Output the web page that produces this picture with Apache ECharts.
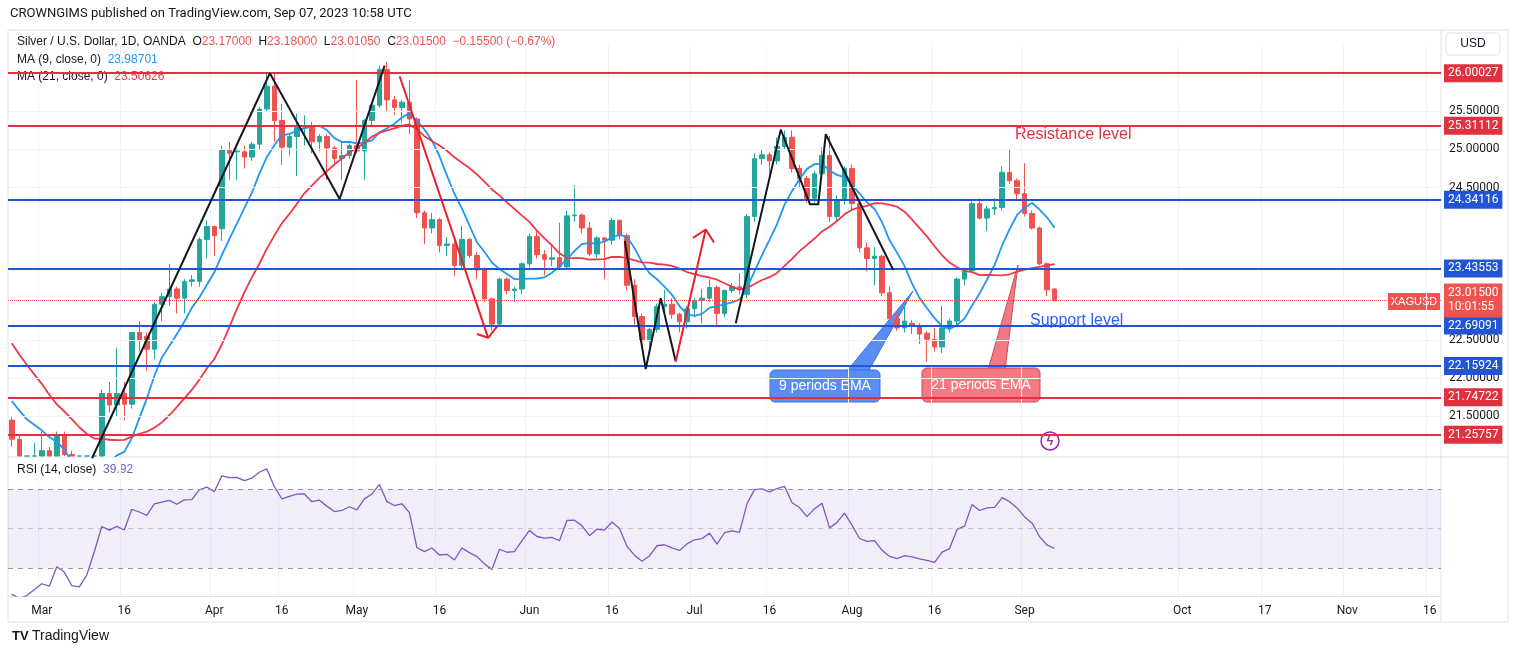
<!DOCTYPE html>
<html><head><meta charset="utf-8">
<script src="https://cdn.jsdelivr.net/npm/echarts@6/dist/echarts.min.js"></script>
<style>html,body{margin:0;padding:0;background:#fff}#c{width:1515px;height:655px}</style>
</head><body><div id="c"></div>
<script>
// ---- data ----
const priorCloses = [23.9,23.7,23.6,23.65,23.9,23.9,22.9,22.3,22.3,22.1,22.2,21.9,21.9,21.9,21.6,21.7,21.7,21.8,21.9,21.6];
const opens = [21.45,21.2,20.8,20.85,20.95,21.05,20.95,21.25,21.0,20.15,20.05,20.3,20.95,21.8,21.65,21.8,21.66,22.6,22.55,22.38,22.97,23.07,23.17,23.05,23.27,23.27,23.82,23.99,23.96,25.0,24.97,24.97,24.9,25.07,25.53,25.83,25.38,25.03,25.17,25.29,25.29,25.1,25.17,25.02,24.88,24.92,25.05,24.98,25.38,25.58,26.05,25.65,25.55,25.62,25.4,24.17,23.97,24.08,23.74,23.76,23.48,23.82,23.61,23.42,23.04,22.71,23.3,23.15,23.17,23.5,23.86,23.62,23.56,23.58,23.46,24.13,24.14,23.97,23.63,23.84,23.81,24.07,23.87,23.22,22.81,22.49,22.64,22.94,22.97,22.84,22.74,22.91,23.02,23.05,23.19,22.85,23.15,23.2,23.1,24.12,24.88,24.93,24.85,25.04,25.16,24.75,24.62,24.36,24.68,24.92,24.12,24.34,24.75,24.29,23.71,23.57,23.6,23.12,22.78,22.66,22.72,22.68,22.59,22.51,22.41,22.66,22.75,23.3,23.41,24.29,24.1,24.22,24.24,24.7,24.59,24.42,24.16,23.97,23.5,23.17];
const closes = [21.2,20.8,20.85,20.95,21.05,20.9,21.25,21.0,20.15,20.05,20.3,20.9,21.8,21.65,21.8,21.66,22.6,22.5,22.38,22.97,23.07,23.17,23.05,23.27,23.29,23.82,23.99,23.87,25.0,24.95,24.98,24.9,25.07,25.53,25.83,25.38,25.03,25.17,25.29,25.3,25.1,25.17,25.02,24.88,24.92,25.05,24.98,25.38,25.58,26.05,25.65,25.55,25.62,25.4,24.17,23.97,24.08,23.74,23.76,23.48,23.82,23.61,23.42,23.04,22.71,23.3,23.15,23.17,23.5,23.86,23.62,23.56,23.58,23.46,24.13,24.14,23.97,23.63,23.84,23.81,24.07,23.87,23.22,22.81,22.49,22.64,22.94,22.97,22.84,22.74,22.91,23.02,23.05,23.19,22.85,23.15,23.2,23.16,24.12,24.88,24.93,24.85,25.04,25.16,24.75,24.62,24.36,24.68,24.92,24.12,24.34,24.75,24.29,23.71,23.57,23.6,23.12,22.78,22.66,22.75,22.68,22.58,22.51,22.41,22.66,22.75,23.3,23.41,24.29,24.1,24.22,24.24,24.7,24.59,24.42,24.16,23.97,23.5,23.16,23.015];
const highs = [21.5,21.25,20.95,21.15,21.3,21.1,21.3,21.3,21.05,20.2,20.4,20.95,21.85,21.95,22.4,21.95,22.6,22.75,22.6,23.0,23.12,23.5,23.2,23.3,23.35,23.85,24.07,24.0,25.05,25.1,25.02,25.05,25.1,25.56,26.0,26.0,25.6,25.2,25.47,25.45,25.36,25.2,25.2,25.05,25.1,25.08,25.91,25.4,25.6,26.1,26.15,25.7,25.65,25.91,25.42,24.2,24.17,24.1,23.85,23.8,24.0,23.84,23.65,23.45,23.06,23.32,23.32,23.2,23.52,23.9,23.95,23.68,23.75,24.04,24.2,24.53,24.16,24.05,23.86,23.85,24.1,24.08,23.9,23.3,22.85,22.66,22.98,23.16,23.05,22.86,22.95,23.05,23.17,23.3,23.22,23.16,23.25,23.38,24.15,24.95,25.0,24.96,25.16,25.25,25.25,24.8,24.65,24.72,25.03,25.18,24.4,24.78,24.8,24.32,23.78,23.72,23.62,23.2,22.85,22.98,22.76,22.72,22.62,22.66,22.95,22.78,23.32,23.45,24.32,24.36,24.26,24.36,24.78,25.01,24.62,24.82,24.2,23.99,23.52,23.18];
const lows = [21.1,20.75,20.7,20.75,20.9,20.7,20.9,20.9,20.1,19.9,19.95,20.2,20.8,21.55,21.5,21.45,21.6,22.35,22.1,22.25,22.75,22.95,22.85,22.85,23.2,23.2,23.57,23.6,23.8,24.6,24.6,24.75,24.85,25.0,25.5,25.1,24.8,24.92,24.65,25.05,24.95,24.98,24.6,24.82,24.6,24.88,24.95,24.6,25.3,25.55,25.5,25.45,25.35,25.2,24.1,23.76,23.9,23.65,23.6,23.34,23.42,23.58,23.3,23.0,22.63,22.68,23.1,23.0,23.1,23.45,23.57,23.35,23.47,23.44,23.42,24.05,23.9,23.6,23.58,23.3,23.75,23.82,23.15,22.7,22.43,22.38,22.6,22.84,22.78,22.6,22.65,22.8,22.72,23.0,22.67,22.8,23.12,23.1,23.05,24.05,24.8,24.6,24.8,25.0,24.7,24.5,24.3,24.3,24.6,24.05,24.05,24.28,24.2,23.65,23.4,23.22,23.08,22.72,22.62,22.6,22.58,22.45,22.22,22.35,22.33,22.6,22.7,23.22,23.38,24.08,23.93,24.14,24.2,24.55,24.35,24.12,23.95,23.48,23.08,23.0105];
const hLinesRed = [26.00027, 25.31112, 21.74722, 21.25757];
const hLinesBlue = [24.34116, 23.43553, 22.69091, 22.15924];
const priceTicks = [21.5, 22.0, 22.5, 24.5, 25.0, 25.5];
const rsiTicks = [80, 60, 20];
const monthTicks = {'2023-03-01':'Mar','2023-03-16':'16','2023-04-03':'Apr','2023-04-17':'16','2023-05-01':'May','2023-05-16':'16','2023-06-01':'Jun','2023-06-16':'16','2023-07-03':'Jul','2023-07-17':'16','2023-08-01':'Aug','2023-08-16':'16','2023-09-01':'Sep','2023-10-02':'Oct','2023-10-17':'17','2023-11-01':'Nov','2023-11-16':'16'};
const zigzag1 = [[10.7,20.95],[34.4,26.0],[43.7,24.35],[49.7,26.1]];
const redDown = [[51.7,25.96],[63.5,22.53]];
const redDownHead = [[62.0,22.58],[63.5,22.53],[64.7,22.68]];
const zigzagW = [[81.7,23.8],[84.5,22.12],[86.5,23.05],[88.5,22.22]];
const redUp = [[88.5,22.22],[92.5,23.95]];
const redUpHead = [[90.8,23.84],[92.5,23.95],[93.6,23.78]];
const zigzagJul = [[96.5,22.72],[102.5,25.26],[106.4,24.28],[107.5,24.28],[108.5,25.2],[117.5,23.42]];

const N = 191, YMIN = 20.98, YMAX = 26.37;
const dates = [];
{ let d = new Date(Date.UTC(2023,1,23));
  while (dates.length < N) {
    const wd = d.getUTCDay(); const s = d.toISOString().slice(0,10);
    if (wd !== 0 && wd !== 6 && s !== '2023-04-07') dates.push(s);
    d = new Date(d.getTime() + 86400000);
  } }
const clampY = v => Math.min(YMAX, Math.max(YMIN, v)); // visual clipping to the pane
const candles = opens.map((o,i)=>[clampY(o), clampY(closes[i]), clampY(lows[i]), clampY(highs[i])]);
const all = priorCloses.concat(closes), P = priorCloses.length;
function ma(n){ return closes.map((c,i)=>{ let s=0; for(let k=0;k<n;k++) s+=all[P+i-k]; return +(s/n).toFixed(4);}); }
const ma9 = ma(9), ma21 = ma(21);
const rsi = (function(){ let ag=0, al=0; const out=[];
  for(let j=1;j<all.length;j++){ const ch=all[j]-all[j-1]; const g=Math.max(ch,0), l=Math.max(-ch,0);
    if(j<=14){ ag+=g/14; al+=l/14; } else { ag=(ag*13+g)/14; al=(al*13+l)/14; }
    if(j>=P) out.push(+(100-100/(1+ag/(al||1e-9))).toFixed(2)); }
  return out; })();

const RED='#e0313f', BLUE='#2255d6', GREEN='#26a69a', CRED='#ef5350', MA9C='#2196f3', MA21C='#f23645';
const chart = echarts.init(document.getElementById('c'));
const boxLabel = (bg, fmt) => ({show:true, position:'end', distance:3, formatter: fmt, backgroundColor:bg, color:'#fff', padding:[3,4], fontSize:12, fontFamily:'Roboto'});
function hl(v,color,width,type){ return {yAxis:v, lineStyle:{color, width, type}, label: boxLabel(color, v.toFixed(5))}; }
const HIDDEN = {color:'rgba(0,0,0,0)', width:0, opacity:0};
const trendSeries = (data,color) => ({type:'line', xAxisIndex:2, yAxisIndex:0, data, symbol:'none', lineStyle:{color, width:2}, silent:true, z:6, clip:false});
const NOSYM = ['none','none'];

chart.setOption({
  animation:false,
  textStyle:{fontFamily:'Roboto'},
  grid:[{left:8,right:74,top:45,height:411},{left:8,right:74,top:458,height:138}],
  xAxis:[
    {type:'category', data:dates, gridIndex:0, axisLabel:{show:false}, axisTick:{show:false}, axisLine:{show:false},
     splitLine:{show:true, interval:(i,v)=>!!monthTicks[v], lineStyle:{color:'#f0f3fa'}}},
    {type:'category', data:dates, gridIndex:1, axisTick:{show:false}, axisLine:{lineStyle:{color:'#e0e3eb'}},
     axisLabel:{interval:(i,v)=>!!monthTicks[v], formatter:v=>monthTicks[v]||'', color:'#131722', fontSize:12, margin:9},
     splitLine:{show:true, interval:(i,v)=>!!monthTicks[v], lineStyle:{color:'#f0f3fa'}}},
    {type:'value', gridIndex:0, min:-0.5, max:N-0.5, show:false}
  ],
  yAxis:[
    {type:'value', gridIndex:0, min:YMIN, max:YMAX, position:'right', axisLabel:{show:false}, axisTick:{show:false}, splitLine:{show:false}, axisLine:{show:false}},
    {type:'value', gridIndex:1, min:16, max:85.5, position:'right', axisLabel:{show:false}, axisTick:{show:false}, splitLine:{show:false}, axisLine:{show:false}}
  ],
  series:[
    {type:'line', data:[], xAxisIndex:0, yAxisIndex:0, silent:true, z:1,
     markLine:{symbol:NOSYM, silent:true, data: priceTicks.map(v=>({yAxis:v, lineStyle:{color:'#f0f3fa', width:1, type:'solid'},
       label:{show:true, position:'end', distance:8, formatter:v.toFixed(5), color:'#131722', fontSize:12}}))}},
    {type:'candlestick', data:candles, xAxisIndex:0, yAxisIndex:0, barWidth:5, z:3,
     itemStyle:{color:GREEN, color0:CRED, borderColor:GREEN, borderColor0:CRED},
     markLine:{symbol:NOSYM, silent:true, z:5, data:[
       ...hLinesRed.map(v=>hl(v,RED,2,'solid')), ...hLinesBlue.map(v=>hl(v,BLUE,2,'solid')),
       {yAxis:23.015, lineStyle:{color:CRED,width:1,type:'dotted'}, label: Object.assign(boxLabel(CRED,'23.01500\n10:01:55'),{lineHeight:14})}
     ]}},
    {type:'line', data:ma9, xAxisIndex:0, yAxisIndex:0, symbol:'none', lineStyle:{color:MA9C,width:1.8}, z:4, silent:true,
     markLine:{symbol:NOSYM, silent:true, data:[{yAxis:23.98701, lineStyle:HIDDEN, label:boxLabel(MA9C,'23.98701')}]}},
    {type:'line', data:ma21, xAxisIndex:0, yAxisIndex:0, symbol:'none', lineStyle:{color:MA21C,width:1.8}, z:4, silent:true,
     markLine:{symbol:NOSYM, silent:true, data:[{yAxis:23.50626, lineStyle:HIDDEN, label:boxLabel(MA21C,'23.50626')}]}},
    trendSeries(zigzag1,'#131722'), trendSeries(redDown,'#e8202e'), trendSeries(redDownHead,'#e8202e'),
    trendSeries(zigzagW,'#131722'), trendSeries(redUp,'#e8202e'), trendSeries(redUpHead,'#e8202e'), trendSeries(zigzagJul,'#131722'),
    {type:'line', data:rsi, xAxisIndex:1, yAxisIndex:1, symbol:'none', lineStyle:{color:'#7e57c2',width:1.3}, silent:true, z:4,
     markArea:{silent:true, itemStyle:{color:'rgba(126,87,194,0.10)'}, data:[[{yAxis:30},{yAxis:70}]]},
     markLine:{symbol:NOSYM, silent:true, data:[
       ...[70,50,30].map(v=>({yAxis:v, lineStyle:{color:'#9598a1', width:1, type:[5,5], opacity:v===50?0.5:1}, label:{show:false}})),
       ...rsiTicks.map(v=>({yAxis:v, lineStyle:HIDDEN, label:{show:true, position:'end', distance:8, formatter:v.toFixed(2), color:'#131722', fontSize:12}})),
       {yAxis:rsi[rsi.length-1], lineStyle:HIDDEN, label:boxLabel('#7e57c2', rsi[rsi.length-1].toFixed(2))}
     ]}}
  ],
  graphic:[
    {type:'rect', shape:{x:8,y:30,width:1500,height:592}, style:{fill:'none', stroke:'#e0e3eb'}, silent:true},
    {type:'line', shape:{x1:8,y1:457,x2:1508,y2:457}, style:{stroke:'#e0e3eb'}},
    {type:'line', shape:{x1:1441,y1:30,x2:1441,y2:622}, style:{stroke:'#e0e3eb'}},
    {type:'text', left:10, top:7, style:{text:'CROWNGIMS published on TradingView.com, Sep 07, 2023 10:58 UTC', fontSize:13, fill:'#131722', fontFamily:'Roboto'}},
    {type:'text', left:17, top:36, style:{rich:{d:{fill:'#131722',fontSize:12},r:{fill:CRED,fontSize:12}},
      text:'{d|Silver / U.S. Dollar, 1D, OANDA  O}{r|23.17000}{d|  H}{r|23.18000}{d|  L}{r|23.01050}{d|  C}{r|23.01500}{r|  −0.15500 (−0.67%)}'}},
    {type:'text', left:17, top:54, style:{rich:{d:{fill:'#131722',fontSize:12},b:{fill:MA9C,fontSize:12}}, text:'{d|MA (9, close, 0)}  {b|23.98701}'}},
    {type:'text', left:17, top:71, style:{rich:{d:{fill:'#131722',fontSize:12},b:{fill:MA21C,fontSize:12}}, text:'{d|MA (21, close, 0)}  {b|23.50626}'}},
    {type:'text', left:17, top:464, style:{rich:{d:{fill:'#131722',fontSize:12},b:{fill:'#7e57c2',fontSize:12}}, text:'{d|RSI (14, close)}  {b|'+rsi[rsi.length-1].toFixed(2)+'}'}},
    {type:'rect', shape:{x:1446,y:33,width:54,height:22,r:4}, style:{fill:'#fff', stroke:'#e0e3eb'}},
    {type:'text', x:1473, y:44, style:{text:'USD', fontSize:12, fill:'#131722', align:'center', verticalAlign:'middle'}},
    {type:'rect', shape:{x:1388,y:293,width:52,height:17}, style:{fill:CRED}},
    {type:'text', x:1414, y:302, style:{text:'XAGUSD', fontSize:11, fill:'#fff', align:'center', verticalAlign:'middle'}},
    {type:'text', left:1015, top:127, style:{text:'Resistance level', fontSize:16, fill:'#e0313f'}},
    {type:'text', left:1030, top:313, style:{text:'Support level', fontSize:16, fill:'#2962ff'}},
    {type:'polygon', shape:{points:[[846,372],[913,291],[868,372]]}, style:{fill:'#5a8cf5', stroke:'#3d6fe0'}},
    {type:'rect', shape:{x:770,y:370,width:110,height:32,r:5}, style:{fill:'#5a8cf5', stroke:'#3d6fe0'}},
    {type:'text', x:825, y:386, style:{text:'9 periods EMA', fontSize:14, fill:'#fff', align:'center', verticalAlign:'middle'}},
    {type:'polygon', shape:{points:[[988,370],[1018,265],[1005,370]]}, style:{fill:'#f47983', stroke:'#c94b55'}},
    {type:'rect', shape:{x:922,y:368,width:118,height:34,r:5}, style:{fill:'#f47983', stroke:'#c94b55'}},
    {type:'text', x:981, y:385, style:{text:'21 periods EMA', fontSize:14, fill:'#fff', align:'center', verticalAlign:'middle'}},
    {type:'circle', shape:{cx:1050,cy:441,r:9}, style:{fill:'#fff', stroke:'#9c27b0', lineWidth:1.5}},
    {type:'text', x:1050, y:441, style:{text:'ϟ', fontSize:13, fill:'#9c27b0', align:'center', verticalAlign:'middle', fontWeight:'bold'}},
    {type:'text', left:12, top:629, style:{rich:{l:{fill:'#131722',fontSize:13,fontWeight:'bold'},t:{fill:'#131722',fontSize:14}}, text:'{l|TV} {t|TradingView}'}}
  ]
});
</script></body></html>
